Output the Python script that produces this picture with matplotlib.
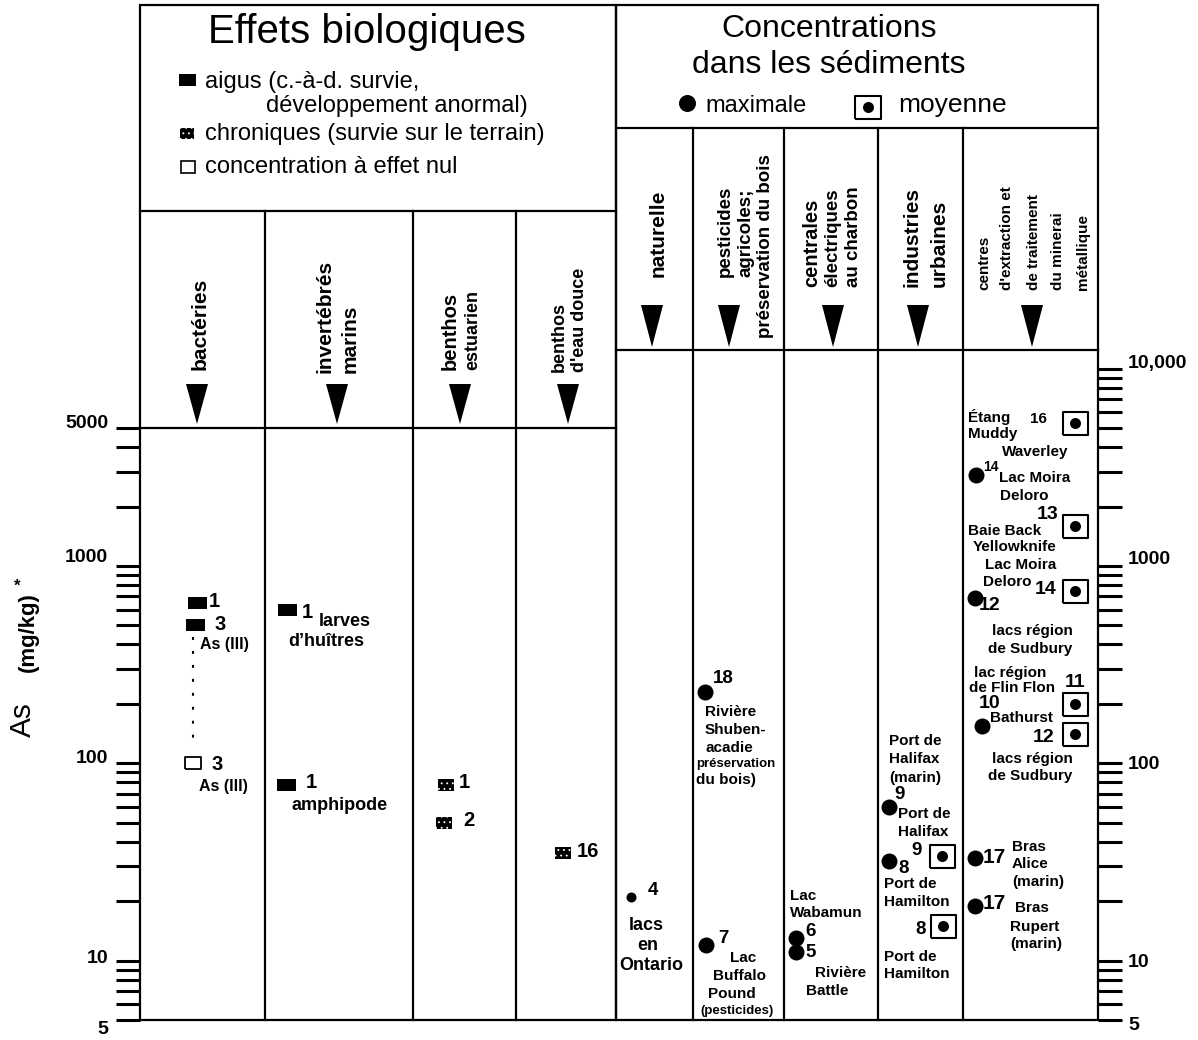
import matplotlib
matplotlib.use("Agg")
import matplotlib.pyplot as plt
from matplotlib.patches import Polygon, Rectangle

plt.rcParams['font.family'] = ['Liberation Sans', 'DejaVu Sans']
plt.rcParams['hatch.color'] = 'white'
plt.rcParams['hatch.linewidth'] = 0.6

# ---------------- data ----------------
bio_columns = ["bactéries", "invertébrés\nmarins", "benthos\nestuarien", "benthos\nd'eau douce"]
bio_column = [0, 0, 0, 1, 1, 2, 2, 3]
bio_values = [650, 500, 100, 600, 78, 78, 50, 35]
bio_effects = ["aigu", "aigu", "nul", "aigu", "aigu", "chronique", "chronique", "chronique"]
bio_refs = ["1", "3", "3", "1", "1", "1", "2", "16"]

sed_columns = ["naturelle", "pesticides agricoles; préservation du bois",
               "centrales électriques au charbon", "industries urbaines",
               "centres d'extraction et de traitement du minerai métallique"]
sed_column = [0, 1, 1, 2, 2, 3, 3, 3, 3, 4, 4, 4, 4, 4, 4, 4, 4, 4, 4]
sed_values = [21, 230, 12, 13, 11, 60, 32, 34, 15, 5300, 2900, 1600, 750, 690, 200, 155, 140, 33, 19]
sed_stats = ["max", "max", "max", "max", "max", "max", "max", "moy", "moy",
             "moy", "max", "moy", "moy", "max", "moy", "max", "moy", "max", "max"]
sed_refs = ["4", "18", "7", "6", "5", "9", "8", "9", "8",
            "16", "14", "13", "14", "12", "11", "10", "12", "17", "17"]

left_ticks = [5, 10, 100, 1000, 5000]
left_tick_labels = ["5", "10", "100", "1000", "5000"]
left_minor = [6, 7, 8, 9, 20, 30, 40, 50, 60, 70, 80, 90, 200, 300, 400, 500, 600, 700, 800, 900, 2000, 3000, 4000]
right_ticks = [5, 10, 100, 1000, 10000]
right_tick_labels = ["5", "10", "100", "1000", "10,000"]
right_minor = [6, 7, 8, 9, 20, 30, 40, 50, 60, 70, 80, 90, 200, 300, 400, 500, 600, 700, 800, 900,
               2000, 3000, 4000, 5000, 6000, 7000, 8000, 9000]

# ---------------- layout ----------------
W, H = 1198, 1040
LX0, LX1, RX1 = 140, 616, 1098
TOP, BOT = 5, 1020
L_DATA_TOP, R_DATA_TOP = 428, 350
bio_edges = [140, 265, 413, 516, 616]
sed_edges = [616, 693, 784, 878, 963, 1098]
bio_dx = [-5.5, -7.5, -9.5, -52, -53, -18.5, -20.5, -3]
sed_dx = [-23.5, -33.5, -32.5, -35, -35, -31.5, -31.5, 21.5, 22.5,
          44.5, -54.5, 44.5, 44.5, -55.5, 44.5, -48.5, 44.5, -55.5, -55.5]
bio_ref_off = [(12, -1), (19, -1), (18, 1), (15, 3), (20, -2), (13, -2), (19, -2), (14, -2)]
sed_ref_off = [(17, -7), (8, -13), (12, -6), (9, -7), (9, 0), (5, -13), (9, 8), (-31, -5), (-28, 4),
               (-45, -4), (7, -8), (-38, -11), (-40, -1), (4, 8), (-10, -21), (-3, -22), (-42, 3),
               (8, -1), (8, -2)]
sed_ref_size = [13.5, 13.5, 13.5, 13.5, 13.5, 13.5, 13.5, 13.5, 13.5,
                11, 10, 14, 14, 14, 14, 14, 14, 15, 15]
PT = 0.72  # points per pixel at 100 dpi
LW = 1.6


def rect(w, h):
    return [(-w / 2, -h / 2), (w / 2, -h / 2), (w / 2, h / 2), (-w / 2, h / 2), (-w / 2, -h / 2)]


fig = plt.figure(figsize=(W / 100, H / 100), dpi=100)
ov = fig.add_axes([0, 0, 1, 1])
ov.set_xlim(0, W)
ov.set_ylim(H, 0)
ov.axis('off')


def txt(x, y, s, size=11, ha='left', va='center', weight='bold', rot=0):
    ov.text(x, y, s, fontsize=size, ha=ha, va=va, fontweight=weight, rotation=rot)


def line(x0, y0, x1, y1, lw=LW):
    ov.plot([x0, x1], [y0, y1], color='black', lw=lw, solid_capstyle='projecting')


def tri(cx, top, bot, hw=11):
    ov.add_patch(Polygon([(cx - hw, top), (cx + hw, top), (cx, bot)], closed=True, fc='black', ec='none'))


def chronic(ax, x, y, w, h, z=4):
    ax.scatter([x], [y], marker=rect(w, h), s=(w * PT) ** 2, facecolors='black',
               edgecolors='white', linewidths=0, hatch='...', zorder=z)


# frames
ov.add_patch(Rectangle((LX0, TOP), LX1 - LX0, BOT - TOP, fill=False, lw=LW, ec='black'))
ov.add_patch(Rectangle((LX1, TOP), RX1 - LX1, BOT - TOP, fill=False, lw=LW, ec='black'))
line(LX0, 211, LX1, 211)
line(LX0, L_DATA_TOP, LX1, L_DATA_TOP)
for x in bio_edges[1:-1]:
    line(x, 211, x, BOT)
line(LX1, 128, RX1, 128)
line(LX1, R_DATA_TOP, RX1, R_DATA_TOP)
for x in sed_edges[1:-1]:
    line(x, 128, x, BOT)

# left header
txt(367, 43, "Effets biologiques", size=29, ha='center', va='baseline', weight='normal')
ov.add_patch(Rectangle((179, 74), 17, 12, fc='black', ec='none'))
txt(205, 82, "aigus (c.-à-d. survie,", size=17, weight='normal')
txt(266, 106, "développement anormal)", size=17, weight='normal')
chronic(ov, 187, 133.5, 14, 11)
txt(205, 134, "chroniques (survie sur le terrain)", size=17, weight='normal')
ov.add_patch(Rectangle((180.5, 161), 14, 12, fc='white', ec='black', lw=1.2))
txt(205, 167, "concentration à effet nul", size=17, weight='normal')

# right header
txt(829, 37, "Concentrations", size=23, ha='center', va='baseline', weight='normal')
txt(829, 73, "dans les sédiments", size=23, ha='center', va='baseline', weight='normal')
ov.plot([687], [103], 'o', color='black', ms=17 * PT, mew=0)
txt(705, 112, "maximale", size=17, va='baseline', weight='normal')
ov.plot([868], [107], marker=rect(26, 23), ms=26 * PT, mfc='white', mec='black', mew=1.5)
ov.plot([868], [107], 'o', color='black', ms=11 * PT, mew=0)
txt(898, 112, "moyenne", size=19, va='baseline', weight='normal')

# column headers (rotated)
for s, x, yb, fs in [("bactéries", 200, 370, 15), ("invertébrés", 325, 373, 15), ("marins", 350, 373, 15),
                     ("benthos", 450, 370, 14.5), ("estuarien", 473, 370, 13),
                     ("benthos", 559, 372, 13), ("d'eau douce", 579, 372, 13),
                     ("naturelle", 658, 277, 15), ("pesticides", 725, 277, 13.5),
                     ("agricoles;", 746, 277, 13.5), ("préservation du bois", 766, 338, 13.5),
                     ("centrales", 812, 287, 14.5), ("électriques", 833, 287, 13.5),
                     ("au charbon", 854, 287, 13.5), ("industries", 912, 287, 15),
                     ("urbaines", 939, 287, 15), ("centres", 984, 290, 11),
                     ("d'extraction et", 1007, 290, 11), ("de traitement", 1034, 290, 11),
                     ("du minerai", 1058, 290, 11), ("métallique", 1083, 290, 11)]:
    txt(x, yb, s, size=fs, ha='center', va='bottom', rot=90)
for cx in [197, 337, 460, 568]:
    tri(cx, 384, 424)
for cx in [652, 729, 833, 918, 1032]:
    tri(cx, 305, 347)

# y label
txt(23, 720, "As", size=21.5, ha='center', va='center', weight='normal', rot=90)
txt(28, 632, "(mg/kg)", size=16, ha='center', va='center', rot=90)
txt(17, 586, "*", size=12, ha='center', va='center')

# ---------------- data axes ----------------
decades_per_px = 3.0 / (BOT - L_DATA_TOP)
axL = fig.add_axes([LX0 / W, (H - BOT) / H, (LX1 - LX0) / W, (BOT - L_DATA_TOP) / H], facecolor='none')
axL.set_yscale('log')
axL.set_ylim(5, 5000)
axL.set_xlim(LX0, LX1)
axR = fig.add_axes([LX1 / W, (H - BOT) / H, (RX1 - LX1) / W, (BOT - R_DATA_TOP) / H], facecolor='none')
axR.set_yscale('log')
axR.set_ylim(5, 5 * 10 ** ((BOT - R_DATA_TOP) * decades_per_px))
axR.set_xlim(LX1, RX1)

for ax, side, ticks, minor in [(axL, 'left', left_ticks, left_minor), (axR, 'right', right_ticks, right_minor)]:
    for sp in ax.spines.values():
        sp.set_visible(False)
    ax.set_xticks([])
    ax.set_yticks(ticks)
    ax.set_yticks(minor, minor=True)
    ax.tick_params(axis='y', which='both', direction='out', length=17, width=2.2,
                   left=(side == 'left'), right=(side == 'right'), labelleft=False, labelright=False)
    ax.set_zorder(3)

left_lab_dy = [10, -2, -5, -8, -4]
for v, lab, dy in zip(left_ticks, left_tick_labels, left_lab_dy):
    axL.annotate(lab, xy=(0, v), xycoords=('axes fraction', 'data'), xytext=(-32, -dy),
                 textcoords='offset pixels', ha='right', va='center', fontsize=14, fontweight='bold')
right_lab_dy = [5, 2, 1, -6, -5]
for v, lab, dy in zip(right_ticks, right_tick_labels, right_lab_dy):
    axR.annotate(lab, xy=(1, v), xycoords=('axes fraction', 'data'), xytext=(30, -dy),
                 textcoords='offset pixels', ha='left', va='center', fontsize=14, fontweight='bold')

# bio effects marks
bio_centers = [(bio_edges[i] + bio_edges[i + 1]) / 2 for i in range(len(bio_columns))]
bio_x = [bio_centers[c] + d for c, d in zip(bio_column, bio_dx)]
for x, v, eff in zip(bio_x, bio_values, bio_effects):
    if eff == "aigu":
        axL.plot([x], [v], marker=rect(19, 12), ms=19 * PT, color='black', mew=0, zorder=4)
    elif eff == "chronique":
        chronic(axL, x, v, 16, 12)
    else:
        axL.plot([x], [v], marker=rect(16, 12), ms=16 * PT, mfc='white', mec='black', mew=1.3, zorder=4)
# dotted link between acute and no-effect As(III) results
axL.plot([bio_x[2], bio_x[2]], [bio_values[1] * 0.87, bio_values[2] * 1.24], color='black', lw=1.5,
         ls=(0, (1.4, 5.3)), zorder=3)
for x, v, r, (dx, dy) in zip(bio_x, bio_values, bio_refs, bio_ref_off):
    axL.annotate(r, xy=(x, v), xytext=(dx, -dy), textcoords='offset pixels', ha='left', va='center',
                 fontsize=14.5, fontweight='bold')

# sediment marks
sed_centers = [(sed_edges[i] + sed_edges[i + 1]) / 2 for i in range(len(sed_columns))]
sed_x = [sed_centers[c] + d for c, d in zip(sed_column, sed_dx)]
for i, (x, v, st) in enumerate(zip(sed_x, sed_values, sed_stats)):
    if st == "max":
        ms = (10 if sed_column[i] == 0 else 16) * PT
        axR.plot([x], [v], 'o', color='black', ms=ms, mew=0, zorder=4)
    else:
        axR.plot([x], [v], marker=rect(25, 23), ms=25 * PT, mfc='white', mec='black', mew=1.5, zorder=4)
        axR.plot([x], [v], 'o', color='black', ms=11 * PT, mew=0, zorder=5)
for x, v, r, (dx, dy), fs in zip(sed_x, sed_values, sed_refs, sed_ref_off, sed_ref_size):
    axR.annotate(r, xy=(x, v), xytext=(dx, -dy), textcoords='offset pixels', ha='left', va='center',
                 fontsize=fs, fontweight='bold')

# ---------------- site / organism labels ----------------
labels = [
    ("As (III)", 200, 645, 'left', 11.5), ("As (III)", 199, 786, 'left', 11.5),
    ("larves", 319, 622, 'left', 13), ("d’huîtres", 288, 641, 'left', 13),
    ("amphipode", 292, 806, 'left', 13),
    ("lacs", 646, 925, 'center', 13), ("en", 648, 946, 'center', 13), ("Ontario", 651, 966, 'center', 13),
    ("Rivière", 705, 712, 'left', 11), ("Shuben-", 705, 730, 'left', 11), ("acadie", 706, 748, 'left', 11),
    ("préservation", 696, 764, 'left', 9.5), ("du bois)", 696, 780, 'left', 11),
    ("Lac", 743, 958, 'center', 11), ("Buffalo", 740, 976, 'center', 11), ("Pound", 732, 994, 'center', 11),
    ("(pesticides)", 737, 1011, 'center', 9.5),
    ("Lac", 790, 896, 'left', 11), ("Wabamun", 790, 913, 'left', 11),
    ("Rivière", 841, 973, 'center', 11), ("Battle", 827, 991, 'center', 11),
    ("Port de", 889, 741, 'left', 11), ("Halifax", 889, 759, 'left', 11), ("(marin)", 889, 778, 'left', 11),
    ("Port de", 898, 814, 'left', 11), ("Halifax", 898, 832, 'left', 11),
    ("Port de", 884, 884, 'left', 11), ("Hamilton", 884, 902, 'left', 11),
    ("Port de", 884, 957, 'left', 11), ("Hamilton", 884, 974, 'left', 11),
    ("Étang", 968, 417, 'left', 11), ("Muddy", 968, 434, 'left', 11),
    ("Waverley", 1002, 452, 'left', 11),
    ("Lac Moira", 999, 478, 'left', 11), ("Deloro", 1000, 496, 'left', 11),
    ("Baie Back", 968, 531, 'left', 11), ("Yellowknife", 973, 547, 'left', 11),
    ("Lac Moira", 985, 565, 'left', 11), ("Deloro", 983, 582, 'left', 11),
    ("lacs région", 1032, 631, 'center', 11), ("de Sudbury", 1030, 649, 'center', 11),
    ("lac région", 1010, 673, 'center', 11), ("de Flin Flon", 1012, 688, 'center', 11),
    ("Bathurst", 990, 718, 'left', 11),
    ("lacs région", 1032, 759, 'center', 11), ("de Sudbury", 1030, 776, 'center', 11),
    ("Bras", 1012, 847, 'left', 11), ("Alice", 1012, 864, 'left', 11), ("(marin)", 1012, 882, 'left', 11),
    ("Bras", 1015, 908, 'left', 11), ("Rupert", 1010, 927, 'left', 11), ("(marin)", 1010, 944, 'left', 11),
]
for s, x, y, ha, fs in labels:
    txt(x, y, s, size=fs, ha=ha)

fig.savefig("out.png", dpi=100)
